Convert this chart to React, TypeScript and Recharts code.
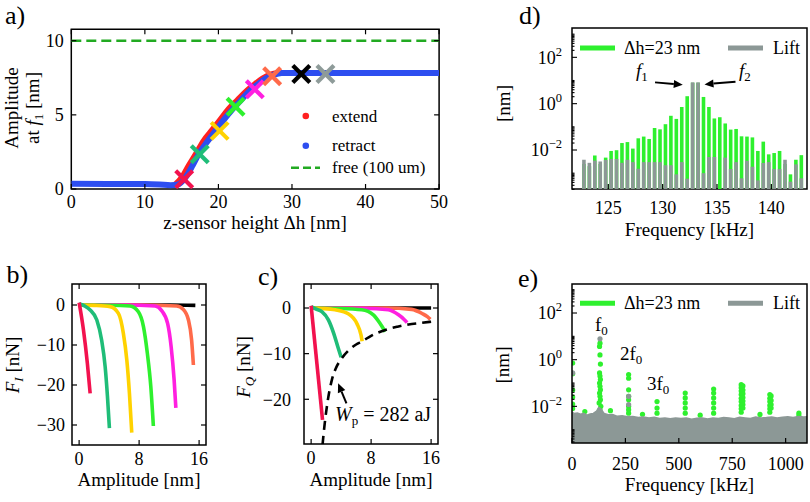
import React from 'react'
import {
  ComposedChart,
  Line,
  Bar,
  Area,
  Scatter,
  XAxis,
  YAxis,
  ReferenceArea,
  ReferenceLine,
} from 'recharts'

// ---------- a) amplitude at f1 vs z-sensor height [nm]
const zRetract = [0, 5, 10, 12, 13.5, 14.5, 15.5, 16.5, 17.3, 18.5, 19.6, 20.7, 21.85, 23, 24.1, 25.2, 26.4, 27.5, 28.6, 30, 40, 50]
const ampRetract = [0.35, 0.34, 0.33, 0.3, 0.26, 0.3, 0.76, 1.6, 2.35, 3.2, 3.93, 4.65, 5.35, 5.95, 6.55, 7.0, 7.45, 7.7, 7.83, 7.83, 7.83, 7.83]
const zExtend = [14.2, 15.0, 16.0, 17.0, 18.0, 19.2, 20.3, 21.4, 22.6, 23.7, 24.8, 26.0, 27.1, 28.2]
const ampExtend = [0.32, 0.75, 1.6, 2.4, 3.25, 4.0, 4.7, 5.4, 6.0, 6.55, 7.0, 7.45, 7.72, 7.83]
const zFree = [0, 50]
const ampFree = [10, 10]
const zMarks = [15.35, 17.46, 20.17, 22.33, 24.95, 27.3, 31.27, 34.55]
const ampMarks = [0.66, 2.34, 3.92, 5.54, 6.72, 7.61, 7.75, 7.75]
const aXTicks = [0, 10, 20, 30, 40, 50]
const aYTicks = [0, 5, 10]

// ---------- b) F_I vs amplitude
const fiBlackA = [0, 4, 8, 12, 15.5]
const fiBlackF = [0, 0, 0, 0, -0.1]
const fiRedA = [0, 0.58, 1.1, 1.47]
const fiRedF = [0.6, -6.25, -14.6, -22.1]
const fiTealA = [0, 0.8, 1.47, 2.36, 3.0, 3.47, 3.78, 4.04]
const fiTealF = [0.3, -0.3, -1.25, -3.75, -8.75, -15.4, -22.9, -30.8]
const fiGoldA = [0, 2, 4.13, 5.24, 5.9, 6.36, 6.71, 7.02]
const fiGoldF = [0, -0.1, -0.4, -2.1, -7.1, -13.75, -22.1, -31.9]
const fiLimeA = [0, 4, 6.8, 7.9, 8.58, 9.1, 9.56, 9.9]
const fiLimeF = [0, -0.05, -0.25, -1.7, -5.4, -12.1, -20.4, -30.25]
const fiMagA = [0, 6, 10.13, 11.0, 11.8, 12.27, 12.67, 12.9]
const fiMagF = [0, 0, -0.25, -1.4, -4.6, -10.4, -18.75, -25.7]
const fiTomA = [0, 8, 13.0, 13.9, 14.58, 15.0, 15.24]
const fiTomF = [0, 0, -0.25, -1.1, -3.75, -8.75, -15]
const bXTicks = [0, 8, 16]
const bYTicks = [-30, -20, -10, 0]

// ---------- c) F_Q vs amplitude
const fqBlackA = [0, 16]
const fqBlackF = [0, 0]
const fqRedA = [0, 1.52]
const fqRedF = [0.5, -24.5]
const fqTealA = [0, 0.6, 1.43, 2.3, 3.0, 3.56, 4.0]
const fqTealF = [0.3, -0.2, -0.8, -2.6, -5.5, -8.5, -10.8]
const fqGoldA = [0, 1.5, 3.2, 5.0, 6.1, 6.65, 6.8]
const fqGoldF = [0, -0.1, -0.4, -1.3, -3.4, -5.9, -7.3]
const fqLimeA = [0, 4, 6.76, 8.3, 9.2, 9.87]
const fqLimeF = [0, -0.1, -0.4, -1.5, -3.4, -5.2]
const fqMagA = [0, 7, 10.3, 11.65, 12.4, 12.8]
const fqMagF = [0, -0.05, -0.4, -1.5, -2.5, -3.2]
const fqTomA = [0, 10, 13.4, 14.8, 15.5, 15.9]
const fqTomF = [0, 0, -0.3, -1.2, -1.9, -2.5]
const wpA = [1.52, 1.8, 2.2, 2.76, 3.3, 4.1, 5, 6, 6.8, 8, 9.9, 11.5, 13, 14.5, 16]
const wpF = [-30, -25.5, -20.5, -15.8, -13.2, -11, -9.3, -8, -7.3, -6.1, -4.8, -4.1, -3.6, -3.3, -3.0]
const cYTicks = [-20, -10, 0]

// ---------- d) intermodulation spectrum near f1, f2 [kHz] / [nm]
const dFreq = [
  122.75, 123.25, 123.75, 124.25, 124.75, 125.25, 125.75, 126.25, 126.75, 127.25,
  127.75, 128.25, 128.75, 129.25, 129.75, 130.25, 130.75, 131.25, 131.75, 132.25,
  132.75, 133.25,
  133.75, 134.25, 134.75, 135.25, 135.75, 136.25, 136.75, 137.25, 137.75, 138.25,
  138.75, 139.25, 139.75, 140.25, 140.75, 141.25, 141.75, 142.25, 142.75,
]
const dDelta = [
  2.5e-3, 2.0e-3, 5.8e-3, 2.5e-3, 4.7e-3, 9.1e-3, 9.8e-3, 2.0e-2, 2.2e-2, 1.15e-2,
  3.2e-2, 3.8e-2, 3.0e-2, 8.9e-2, 7.8e-2, 0.13, 0.3, 0.22, 0.72, 2.1,
  8.0, 8.0,
  1.95, 0.72, 0.23, 0.26, 0.14, 7.6e-2, 8.1e-2, 3.9e-2, 3.8e-2, 3.5e-2,
  9.1e-3, 2.3e-2, 6.5e-3, 7.4e-3, 9.1e-3, 2.5e-3, 8.9e-4, 3.8e-3, 6.0e-3,
]
const dLift = [
  3.8e-3, 2.8e-3, 3.5e-3, 3.2e-3, 3.7e-3, 4.1e-3, 4.1e-3, 2.8e-3, 3.8e-3, 3.0e-3,
  1.55e-3, 3.0e-3, 3.0e-3, 3.0e-3, 3.0e-3, 2.2e-3, 2.2e-3, 8.9e-4, 3.0e-3, 5.8e-4,
  8.3, 8.3,
  1.0e-3, 5.0e-3, 5.0e-3, 1.5e-4, 4.7e-3, 1.5e-3, 3.0e-3, 6.0e-4, 3.4e-3, 1.9e-3,
  4.9e-4, 2.75e-3, 3.0e-3, 1.5e-3, 1.5e-3, 3.8e-3, 4.3e-4, 2.4e-3, 6.0e-4,
]
const dXTicks = [125, 130, 135, 140]

// ---------- e) full spectrum [kHz] / [nm]
const eBandF = [
  0, 10, 25, 40, 55, 70, 85, 100, 115, 125, 135, 150, 170, 190, 210, 235, 260, 285, 310, 335,
  360, 385, 410, 435, 460, 485, 510, 535, 560, 585, 610, 635, 660, 685, 710, 735, 760, 785,
  810, 835, 860, 885, 910, 935, 960, 985, 1010, 1035, 1060, 1085, 1100,
]
const eBandTop = [
  5.6e-3, 5.0e-3, 5.2e-3, 4.6e-3, 5.0e-3, 4.2e-3, 4.7e-3, 5.0e-3, 6.3e-3, 8.9e-3, 7.9e-3,
  5.0e-3, 4.4e-3, 4.5e-3, 3.8e-3, 4.0e-3, 3.6e-3, 3.7e-3, 3.3e-3, 3.5e-3, 3.2e-3, 3.4e-3,
  3.0e-3, 3.2e-3, 2.95e-3, 3.2e-3, 3.0e-3, 3.2e-3, 2.8e-3, 3.1e-3, 3.2e-3, 2.9e-3, 3.2e-3,
  3.0e-3, 3.3e-3, 3.2e-3, 2.95e-3, 3.4e-3, 3.2e-3, 3.0e-3, 3.5e-3, 3.2e-3, 3.3e-3, 3.5e-3,
  3.2e-3, 3.4e-3, 3.6e-3, 3.3e-3, 3.7e-3, 3.5e-3, 3.6e-3,
]
const eGreenF = [
  3, 3, 3, 3, 3, 3,
  131, 129, 131, 133, 129, 131, 133, 129, 131, 133, 129, 131, 133, 127, 135, 131,
  265, 265, 265, 265, 265, 265, 265, 265,
  398, 398, 398,
  530, 530, 530, 530, 530,
  663, 663, 663, 663, 663, 663,
  792, 792, 792, 792, 792, 792, 792, 792, 792,
  800, 800, 800, 800, 800, 800, 800,
  926, 926, 926, 926, 926, 926,
  932, 932, 932, 932,
  1062, 1062,
  60, 180, 330, 600, 880,
]
const eGreenAmp = [
  0.72, 0.25, 0.05, 0.025, 0.0126, 0.008,
  5.1, 3.7, 1.6, 0.65, 0.27, 0.2, 0.14, 0.1, 0.072, 0.051, 0.037, 0.027, 0.019, 0.014, 0.01, 0.0072,
  0.23, 0.16, 0.051, 0.027, 0.019, 0.01, 0.0072, 0.0051,
  0.016, 0.0085, 0.0051,
  0.037, 0.023, 0.014, 0.0085, 0.0051,
  0.055, 0.037, 0.023, 0.014, 0.0085, 0.0051,
  0.085, 0.063, 0.045, 0.032, 0.022, 0.016, 0.011, 0.0079, 0.0056,
  0.075, 0.05, 0.035, 0.024, 0.017, 0.012, 0.0085,
  0.032, 0.022, 0.016, 0.011, 0.0079, 0.0056,
  0.028, 0.018, 0.012, 0.0085,
  0.0051, 0.004,
  0.006, 0.0065, 0.0046, 0.0042, 0.0045,
]
const eLiftF = [3, 131, 265, 265]
const eLiftAmp = [0.27, 7.8, 0.027, 0.012]
const eXTicks = [0, 250, 500, 750, 1000]

// log axis ticks shared by d) and e)
const logMajor = [0.01, 1, 100]
const logMajorExp: Record<string, string> = { '0.01': '−2', '1': '0', '100': '2' }
const logMinor = [
  2e-4, 3e-4, 4e-4, 5e-4, 6e-4, 7e-4, 8e-4, 9e-4, 1e-3,
  0.02, 0.03, 0.04, 0.05, 0.06, 0.07, 0.08, 0.09, 0.1,
  2, 3, 4, 5, 6, 7, 8, 9, 10,
  200, 300, 400, 500, 600, 700, 800, 900, 1000,
]

// ---------- layout / style
const W = 810
const H = 502
const FONT = 'Liberation Serif'
const TICK_FS = 18

type Box = { l: number; r: number; t: number; b: number }
const boxA: Box = { l: 71.3, r: 439.1, t: 29.3, b: 189 }
const boxB: Box = { l: 72, r: 206, t: 284, b: 445 }
const boxC: Box = { l: 304, r: 438, t: 284, b: 444 }
const boxD: Box = { l: 572, r: 807, t: 28, b: 189 }
const boxE: Box = { l: 572, r: 807, t: 284, b: 443 }

const D_LO = 2.075e-4
const D_HI = 1845
const E_LO = 2.69e-4
const E_HI = 1750

const COL = {
  crimson: '#f2124e',
  teal: '#1fbd78',
  gold: '#ffd200',
  lime: '#2ef02e',
  magenta: '#ff1fe0',
  tomato: '#ff6a4a',
  black: '#000000',
  grey: '#8e9b99',
  blue: '#2d4ef0',
  red: '#ff2020',
  free: '#22aa22',
  lift: '#8c9896',
}
const markColors = [COL.crimson, COL.teal, COL.gold, COL.lime, COL.magenta, COL.tomato, COL.black, COL.grey]

const pts = (xs: number[], ys: number[]) => xs.map((x, i) => ({ x, y: ys[i] }))
// axes get 1px of room (a 0-sized axis is not drawn); margins make up for it
const mg = (b: Box) => ({ top: b.t, left: b.l - 1, right: W - b.r, bottom: H - b.b - 1 })
const fmtNum = (v: number) => (v < 0 ? '−' + -v : String(v))

const axisBase = { tickSize: 0, tickMargin: 0, axisLine: false, tickLine: false, interval: 0 as const, allowDataOverflow: true }

function xTick(box: Box, mirror: boolean, dy: number) {
  const h = box.b - box.t
  return (p: any) => {
    const { x, payload } = p
    const y = box.b
    return (
      <g>
        <line x1={x} x2={x} y1={y} y2={y - 5} stroke='#000' strokeWidth={1.2} />
        {mirror && <line x1={x} x2={x} y1={y - h} y2={y - h + 5} stroke='#000' strokeWidth={1.2} />}
        <text x={x} y={y + dy} textAnchor='middle' fontFamily={FONT} fontSize={TICK_FS} fill='#000'>
          {fmtNum(payload.value)}
        </text>
      </g>
    )
  }
}

function yTick(box: Box, mirror: boolean, gap: number) {
  const w = box.r - box.l
  return (p: any) => {
    const { y, payload } = p
    const x = box.l
    return (
      <g>
        <line x1={x} x2={x + 5} y1={y} y2={y} stroke='#000' strokeWidth={1.2} />
        {mirror && <line x1={x + w - 5} x2={x + w} y1={y} y2={y} stroke='#000' strokeWidth={1.2} />}
        <text x={x - gap} y={y} dy='0.35em' textAnchor='end' fontFamily={FONT} fontSize={TICK_FS} fill='#000'>
          {fmtNum(payload.value)}
        </text>
      </g>
    )
  }
}

function logTick(box: Box, gap: number) {
  return (p: any) => {
    const { y, payload } = p
    const x = box.l
    if (y < box.t - 0.5 || y > box.b + 0.5) return <g />
    const exp = logMajorExp[String(payload.value)]
    const len = exp ? 5 : 2.5
    return (
      <g>
        <line x1={x} x2={x + len} y1={y} y2={y} stroke='#000' strokeWidth={1.1} />
        {exp && (
          <text x={x - gap} y={y} dy='0.35em' textAnchor='end' fontFamily={FONT} fontSize={TICK_FS} fill='#000'>
            10<tspan dy={-8} fontSize={12.5}>{exp}</tspan>
          </text>
        )}
      </g>
    )
  }
}

const XMark = (p: any) => {
  const { cx, cy, payload } = p
  const s = 8.5
  return (
    <g>
      <line x1={cx - s} y1={cy - s} x2={cx + s} y2={cy + s} stroke={payload.c} strokeWidth={4.2} />
      <line x1={cx - s} y1={cy + s} x2={cx + s} y2={cy - s} stroke={payload.c} strokeWidth={4.2} />
    </g>
  )
}

const dotShape = (color: string) => (p: any) => <circle cx={p.cx} cy={p.cy} r={2.6} fill={color} />

const Arrow = (p: any) => {
  const { x1, y1, x2, y2 } = p
  const ang = Math.atan2(y2 - y1, x2 - x1)
  const L = 9
  const hw = 4
  const bx = x2 - L * Math.cos(ang)
  const by = y2 - L * Math.sin(ang)
  const s = Math.sin(ang)
  const c = Math.cos(ang)
  const poly = `${x2},${y2} ${bx - hw * s},${by + hw * c} ${bx + hw * s},${by - hw * c}`
  return (
    <g>
      <line x1={x1} y1={y1} x2={bx} y2={by} stroke='#000' strokeWidth={2} />
      <polygon points={poly} fill='#000' />
    </g>
  )
}

const Abs = ({ children }: { children: React.ReactNode }) => (
  <div style={{ position: 'absolute', left: 0, top: 0 }}>{children}</div>
)

function PanelA() {
  const marks = zMarks.map((x, i) => ({ x, y: ampMarks[i], c: markColors[i] }))
  return (
    <Abs>
      <ComposedChart width={W} height={H} margin={mg(boxA)}>
        <XAxis type='number' dataKey='x' domain={[0, 50]} ticks={aXTicks} height={1} {...axisBase}
          tick={xTick(boxA, true, 19)} />
        <YAxis type='number' dataKey='y' domain={[0, 10.77]} ticks={aYTicks} width={1} {...axisBase}
          tick={yTick(boxA, true, 7.6)} />
        <Line data={pts(zFree, ampFree)} dataKey='y' stroke={COL.free} strokeWidth={2.5} strokeDasharray='10 5'
          dot={false} isAnimationActive={false} />
        <Line data={pts(zExtend, ampExtend)} dataKey='y' type='monotone' stroke={COL.red} strokeWidth={6}
          dot={false} isAnimationActive={false} />
        <Line data={pts(zRetract, ampRetract)} dataKey='y' type='monotone' stroke={COL.blue} strokeWidth={6}
          dot={false} isAnimationActive={false} />
        <Scatter data={marks} dataKey='y' shape={XMark} isAnimationActive={false} />
        <ReferenceArea x1={0} x2={50} y1={0} y2={10.77} fill='none' stroke='#000' strokeWidth={1.5} />
      </ComposedChart>
    </Abs>
  )
}

function ForcePanel({ box, yDomain, yTicks, gap, curves, children }: {
  box: Box
  yDomain: [number, number]
  yTicks: number[]
  gap: number
  curves: { a: number[]; f: number[]; color: string }[]
  children?: React.ReactNode
}) {
  const xDomain: [number, number] = [-0.95, 16.92]
  return (
    <Abs>
      <ComposedChart width={W} height={H} margin={mg(box)}>
        <XAxis type='number' dataKey='x' domain={xDomain} ticks={bXTicks} height={1} {...axisBase}
          tick={xTick(box, true, 20)} />
        <YAxis type='number' dataKey='y' domain={yDomain} ticks={yTicks} width={1} {...axisBase}
          tick={yTick(box, true, gap)} />
        {curves.map((c, i) => (
          <Line key={i} data={pts(c.a, c.f)} dataKey='y' type='monotoneX' stroke={c.color} strokeWidth={3.6}
            dot={false} isAnimationActive={false} />
        ))}
        {children}
        <ReferenceArea x1={xDomain[0]} x2={xDomain[1]} y1={yDomain[0]} y2={yDomain[1]} fill='none'
          stroke='#000' strokeWidth={1.5} />
      </ComposedChart>
    </Abs>
  )
}

function PanelB() {
  const curves = [
    { a: fiBlackA, f: fiBlackF, color: COL.black },
    { a: fiTomA, f: fiTomF, color: COL.tomato },
    { a: fiMagA, f: fiMagF, color: COL.magenta },
    { a: fiLimeA, f: fiLimeF, color: COL.lime },
    { a: fiGoldA, f: fiGoldF, color: COL.gold },
    { a: fiTealA, f: fiTealF, color: COL.teal },
    { a: fiRedA, f: fiRedF, color: COL.crimson },
  ]
  return <ForcePanel box={boxB} yDomain={[-35, 5.25]} yTicks={bYTicks} gap={7} curves={curves} />
}

function PanelC() {
  const curves = [
    { a: fqBlackA, f: fqBlackF, color: COL.black },
    { a: fqTomA, f: fqTomF, color: COL.tomato },
    { a: fqMagA, f: fqMagF, color: COL.magenta },
    { a: fqLimeA, f: fqLimeF, color: COL.lime },
    { a: fqGoldA, f: fqGoldF, color: COL.gold },
    { a: fqTealA, f: fqTealF, color: COL.teal },
    { a: fqRedA, f: fqRedF, color: COL.crimson },
  ]
  return (
    <ForcePanel box={boxC} yDomain={[-29.8, 5.26]} yTicks={cYTicks} gap={13} curves={curves}>
      <Line data={pts(wpA, wpF)} dataKey='y' type='monotoneX' stroke='#000' strokeWidth={2.6}
        strokeDasharray='9 6' dot={false} isAnimationActive={false} />
      <ReferenceLine segment={[{ x: 4.71, y: -20.9 }, { x: 3.6, y: -16.5 }]} shape={Arrow} />
    </ForcePanel>
  )
}

function PanelD() {
  const rows = dFreq.map((f, i) => ({ f, green: dDelta[i], lift: dLift[i] }))
  const xDomain: [number, number] = [121.66, 143.28]
  return (
    <Abs>
      <ComposedChart width={W} height={H} margin={mg(boxD)} data={rows}>
        <XAxis xAxisId='g' type='number' dataKey='f' domain={xDomain} ticks={dXTicks} height={1} {...axisBase}
          tick={xTick(boxD, false, 25)} />
        <XAxis xAxisId='l' type='number' dataKey='f' domain={xDomain} allowDataOverflow hide />
        <YAxis type='number' scale='log' domain={[D_LO, D_HI]} ticks={[...logMajor, ...logMinor]} width={1}
          {...axisBase} tick={logTick(boxD, 10)} />
        <Bar xAxisId='g' dataKey='green' fill={COL.lime} barSize={3.6} isAnimationActive={false} />
        <Bar xAxisId='l' dataKey='lift' fill={COL.lift} barSize={3.6} isAnimationActive={false} />
        <ReferenceLine xAxisId='g' segment={[{ x: 129.3, y: 8.3 }, { x: 131.85, y: 6.6 }]} shape={Arrow} />
        <ReferenceLine xAxisId='g' segment={[{ x: 136.7, y: 8.9 }, { x: 133.85, y: 6.8 }]} shape={Arrow} />
        <ReferenceArea xAxisId='g' x1={xDomain[0]} x2={xDomain[1]} y1={D_LO} y2={D_HI} fill='none'
          stroke='#000' strokeWidth={1.5} />
      </ComposedChart>
    </Abs>
  )
}

function PanelE() {
  const band = eBandF.map((f, i) => ({ f, y: eBandTop[i] }))
  const green = eGreenF.map((f, i) => ({ f, y: eGreenAmp[i] }))
  const lift = eLiftF.map((f, i) => ({ f, y: eLiftAmp[i] }))
  const xDomain: [number, number] = [0, 1100]
  return (
    <Abs>
      <ComposedChart width={W} height={H} margin={mg(boxE)} data={band}>
        <XAxis type='number' dataKey='f' domain={xDomain} ticks={eXTicks} height={1} {...axisBase}
          tick={xTick(boxE, false, 27)} />
        <YAxis type='number' dataKey='y' scale='log' domain={[E_LO, E_HI]} ticks={[...logMajor, ...logMinor]}
          width={1} {...axisBase} tick={logTick(boxE, 10)} />
        <Scatter data={green} dataKey='y' shape={dotShape(COL.lime)} isAnimationActive={false} zIndex={600} />
        <Area dataKey='y' type='linear' baseValue={E_LO} fill={COL.lift} fillOpacity={1} stroke={COL.lift}
          strokeWidth={1.5} isAnimationActive={false} zIndex={650} />
        <Scatter data={lift} dataKey='y' shape={dotShape(COL.lift)} isAnimationActive={false} zIndex={700} />
        <ReferenceArea x1={xDomain[0]} x2={xDomain[1]} y1={E_LO} y2={E_HI} fill='none' stroke='#000'
          strokeWidth={1.5} zIndex={800} />
      </ComposedChart>
    </Abs>
  )
}

function Overlay() {
  const t = { fontFamily: FONT, fill: '#000' }
  const rot = (x: number, y: number) => `rotate(-90 ${x} ${y})`
  return (
    <svg width={W} height={H} style={{ position: 'absolute', left: 0, top: 0 }}>
      <text x={5} y={24} fontSize={26} {...t}>a)</text>
      <text x={519} y={24} fontSize={26} {...t}>d)</text>
      <text x={6.5} y={283} fontSize={26} {...t}>b)</text>
      <text x={258} y={285} fontSize={26} {...t}>c)</text>
      <text x={518} y={287} fontSize={26} {...t}>e)</text>

      <text x={255} y={229} fontSize={19} textAnchor='middle' {...t}>z-sensor height Δh [nm]</text>
      <text x={18.3} y={108} fontSize={19} textAnchor='middle' transform={rot(18.3, 108)} {...t}>Amplitude</text>
      <text x={39} y={108} fontSize={19} textAnchor='middle' transform={rot(39, 108)} {...t}>
        at <tspan fontStyle='italic'>f</tspan><tspan fontSize={13} dy={4}>1</tspan><tspan dy={-4}> [nm]</tspan>
      </text>

      <text x={139} y={486} fontSize={19} textAnchor='middle' {...t}>Amplitude [nm]</text>
      <text x={371} y={486} fontSize={19} textAnchor='middle' {...t}>Amplitude [nm]</text>
      <text x={18.5} y={365} fontSize={19} textAnchor='middle' transform={rot(18.5, 365)} {...t}>
        <tspan fontStyle='italic'>F</tspan><tspan fontSize={13} dy={4} fontStyle='italic'>I</tspan>
        <tspan dy={-4}> [nN]</tspan>
      </text>
      <text x={249.5} y={367} fontSize={19} textAnchor='middle' transform={rot(249.5, 367)} {...t}>
        <tspan fontStyle='italic'>F</tspan><tspan fontSize={13} dy={4} fontStyle='italic'>Q</tspan>
        <tspan dy={-4}> [nN]</tspan>
      </text>

      <text x={689.5} y={236} fontSize={19} textAnchor='middle' {...t}>Frequency [kHz]</text>
      <text x={689.5} y={491} fontSize={19} textAnchor='middle' {...t}>Frequency [kHz]</text>
      <text x={510} y={103.5} fontSize={19} textAnchor='middle' transform={rot(510, 103.5)} {...t}>[nm]</text>
      <text x={509} y={365} fontSize={19} textAnchor='middle' transform={rot(509, 365)} {...t}>[nm]</text>

      {/* legend a) */}
      <circle cx={305.8} cy={116} r={3.3} fill={COL.red} />
      <text x={332} y={122} fontSize={17} {...t}>extend</text>
      <circle cx={305.8} cy={145.7} r={3.3} fill={COL.blue} />
      <text x={332} y={151} fontSize={17} {...t}>retract</text>
      <line x1={291} x2={320} y1={167.7} y2={167.7} stroke={COL.free} strokeWidth={2.5} strokeDasharray='8 4' />
      <text x={332} y={173} fontSize={17} {...t}>free (100 um)</text>

      {/* legends d), e) */}
      {[48, 303.3].map((y) => (
        <g key={y}>
          <line x1={580} x2={615} y1={y} y2={y} stroke={COL.lime} strokeWidth={5} />
          <text x={624} y={y + 5.5} fontSize={18} {...t}>Δh=23 nm</text>
          <line x1={728} x2={763} y1={y} y2={y} stroke={COL.lift} strokeWidth={5} />
          <text x={773} y={y + 5.5} fontSize={18} {...t}>Lift</text>
        </g>
      ))}

      {/* annotations */}
      <text x={636} y={77} fontSize={19} {...t}>
        <tspan fontStyle='italic'>f</tspan><tspan fontSize={13} dy={4}>1</tspan>
      </text>
      <text x={739} y={77} fontSize={19} {...t}>
        <tspan fontStyle='italic'>f</tspan><tspan fontSize={13} dy={4}>2</tspan>
      </text>
      <text x={335} y={421} fontSize={20} {...t}>
        <tspan fontStyle='italic'>W</tspan><tspan fontSize={13} dy={4}>p</tspan><tspan dy={-4}> = 282 aJ</tspan>
      </text>
      <text x={595} y={331} fontSize={19} {...t}>f<tspan fontSize={13} dy={4}>0</tspan></text>
      <text x={620} y={360} fontSize={19} {...t}>2f<tspan fontSize={13} dy={4}>0</tspan></text>
      <text x={647} y={390} fontSize={19} {...t}>3f<tspan fontSize={13} dy={4}>0</tspan></text>
    </svg>
  )
}

export default function App() {
  return (
    <div style={{ position: 'absolute', left: 0, top: 0, width: W, height: H, background: '#fff', overflow: 'hidden' }}>
      <PanelA />
      <PanelB />
      <PanelC />
      <PanelD />
      <PanelE />
      <Overlay />
    </div>
  )
}
